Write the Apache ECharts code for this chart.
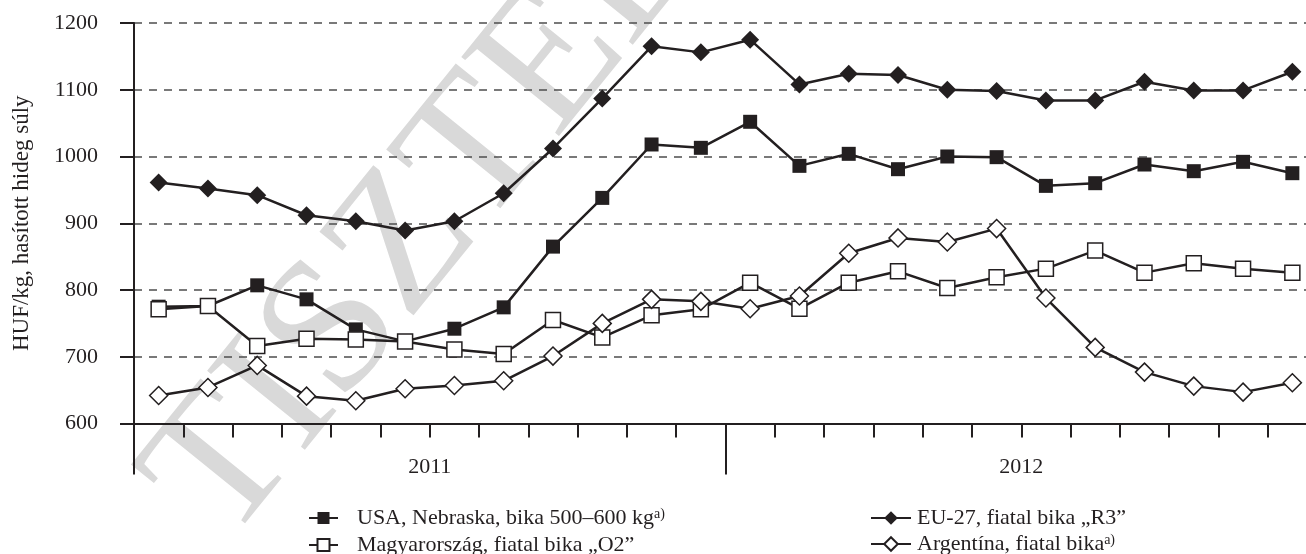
<!DOCTYPE html>
<html>
<head>
<meta charset="utf-8">
<script src="https://cdn.jsdelivr.net/npm/echarts@6/dist/echarts.min.js"></script>
<style>
  html, body { margin: 0; padding: 0; background: #fff; }
  #chart { width: 1306px; height: 554px; }
</style>
</head>
<body>
<div id="chart"></div>
<script>
// months of 2011 and 2012
const months = ['I', 'II', 'III', 'IV', 'V', 'VI', 'VII', 'VIII', 'IX', 'X', 'XI', 'XII',
  'I ', 'II ', 'III ', 'IV ', 'V ', 'VI ', 'VII ', 'VIII ', 'IX ', 'X ', 'XI ', 'XII '];
const years = ['2011', '2012'];

const usa = [775, 776, 807, 786, 741, 723, 742, 774, 865, 938, 1018, 1013,
  1052, 986, 1004, 981, 1000, 999, 956, 960, 988, 978, 992, 975];
const magyar = [771, 776, 716, 727, 726, 723, 711, 704, 755, 729, 762, 771,
  811, 772, 811, 828, 803, 819, 832, 859, 826, 840, 832, 826];
const eu = [961, 952, 942, 912, 903, 889, 903, 945, 1012, 1087, 1165, 1156,
  1175, 1108, 1124, 1122, 1100, 1098, 1084, 1084, 1112, 1099, 1099, 1127];
const arg = [642, 654, 687, 641, 634, 652, 657, 664, 701, 750, 786, 783,
  772, 791, 855, 878, 872, 892, 788, 714, 677, 656, 647, 661];

const names = {
  usa: 'USA, Nebraska, bika 500–600 kg',
  magyar: 'Magyarország, fiatal bika „O2”',
  eu: 'EU-27, fiatal bika „R3”',
  arg: 'Argentína, fiatal bika',
};
const withNote = [names.usa, names.arg];

const ink = '#231f20';
const serif = 'Liberation Serif';

const chart = echarts.init(document.getElementById('chart'));

function line(name, data, symbol, size, filled) {
  return {
    name,
    type: 'line',
    data,
    symbol,
    symbolSize: size,
    showSymbol: true,
    z: 5,
    lineStyle: { color: ink, width: 2.5 },
    itemStyle: {
      color: filled ? ink : '#fff',
      borderColor: ink,
      borderWidth: filled ? 0 : 1.5,
    },
    emphasis: { disabled: true },
  };
}

function legendText(pad) {
  return {
    formatter: (name) => (withNote.includes(name)
      ? `{t|${name}}{s|a)}` : `{t|${name}}`),
    textStyle: {
      color: ink,
      fontFamily: serif,
      rich: {
        t: { fontSize: 22, fontFamily: serif, color: ink, padding: [0, 0, 0, pad] },
        s: { fontSize: 14, fontFamily: serif, color: ink, verticalAlign: 'top', lineHeight: 22 },
      },
    },
  };
}

chart.setOption({
  animation: false,
  backgroundColor: '#fff',
  graphic: [{
    type: 'text',
    x: 262,
    y: 575,
    rotation: 51 * Math.PI / 180,
    z: -10,
    silent: true,
    style: {
      text: 'TISZTELETPÉLDÁNY',
      font: '192px "Liberation Serif"',
      fill: '#d9d9d9',
      align: 'left',
      verticalAlign: 'bottom',
    },
  }],
  // the last month runs a little past the right edge of the picture
  grid: { left: 134, right: -11, top: 23, bottom: 130.5, containLabel: false, outerBoundsMode: 'none' },
  legend: [
    {
      data: [names.usa, names.magyar],
      orient: 'vertical',
      left: 303,
      top: 502,
      height: 120,
      itemWidth: 29,
      itemHeight: 15,
      itemGap: 5,
      ...legendText(14),
    },
    {
      data: [names.eu, names.arg],
      orient: 'vertical',
      left: 865,
      top: 502,
      height: 120,
      itemWidth: 40,
      itemHeight: 17,
      itemGap: 4,
      ...legendText(1),
    },
  ],
  xAxis: [
    {
      type: 'category',
      data: months,
      boundaryGap: true,
      axisLine: { show: true, lineStyle: { color: ink, width: 2 } },
      axisTick: { show: true, interval: 0, length: 14, lineStyle: { color: ink, width: 2 } },
      axisLabel: { show: false, interval: 0 },
      splitLine: { show: false },
    },
    {
      type: 'category',
      data: years,
      position: 'bottom',
      boundaryGap: true,
      axisLine: { show: true, lineStyle: { color: ink, width: 2 } },
      axisTick: { show: true, interval: 0, length: 51, lineStyle: { color: ink, width: 2 } },
      axisLabel: { color: ink, fontFamily: serif, fontSize: 22, margin: 33 },
      splitLine: { show: false },
    },
  ],
  yAxis: {
    type: 'value',
    min: 600,
    max: 1200,
    interval: 100,
    name: 'HUF/kg, hasított hideg súly',
    nameLocation: 'middle',
    nameGap: 101,
    nameTextStyle: { color: ink, fontFamily: serif, fontSize: 23 },
    axisLine: { show: true, lineStyle: { color: ink, width: 2 } },
    axisTick: { show: true, length: 14, lineStyle: { color: ink, width: 2 } },
    axisLabel: { color: ink, fontFamily: serif, fontSize: 22, margin: 36, formatter: (v) => String(v) },
    splitLine: { show: true, lineStyle: { color: '#4d4d4d', width: 1.5, type: [8, 7] } },
  },
  series: [
    line(names.usa, usa, 'rect', 14, true),
    line(names.magyar, magyar, 'rect', 15, false),
    line(names.eu, eu, 'diamond', 18, true),
    line(names.arg, arg, 'diamond', 18, false),
  ],
});
</script>
</body>
</html>
